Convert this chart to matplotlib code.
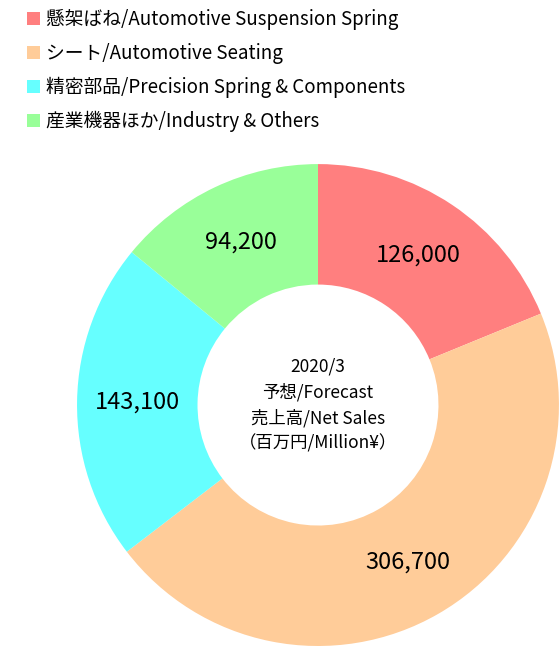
import matplotlib
matplotlib.use('Agg')
import matplotlib.pyplot as plt

plt.rcParams['font.family'] = ['Noto Sans CJK JP', 'DejaVu Sans']

segments = ['懸架ばね/Automotive Suspension Spring',
            'シート/Automotive Seating',
            '精密部品/Precision Spring & Components',
            '産業機器ほか/Industry & Others']
sales = [126000, 306700, 143100, 94200]
colors = ['#FF7F7F', '#FFCC99', '#66FFFF', '#99FF99']
center_text = '2020/3\n予想/Forecast\n売上高/Net Sales\n（百万円/Million¥）'

fig = plt.figure(figsize=(5.6, 6.46), dpi=100)
ax = fig.add_axes([0.1375, 0.0, 0.8607, 0.746])

wedges, texts, autotexts = ax.pie(
    sales, colors=colors, startangle=90, counterclock=False,
    radius=1.0, pctdistance=0.75,
    autopct=lambda p: '{:,.0f}'.format(p * sum(sales) / 100),
    wedgeprops=dict(width=0.5, edgecolor='none'),
    textprops=dict(fontsize=17, color='black'))

ax.text(0, 0, center_text, ha='center', va='center', fontsize=12.5,
        linespacing=1.5)
ax.set_xlim(-1, 1)
ax.set_ylim(-1, 1)
ax.set_aspect('equal')
ax.axis('off')

fig.legend(wedges, segments, loc='upper left', bbox_to_anchor=(0.035, 0.997),
           frameon=False, fontsize=13.5, handlelength=0.7, handleheight=0.7,
           handletextpad=0.3, labelspacing=0.68, borderaxespad=0)

fig.savefig('out.png', dpi=100)
